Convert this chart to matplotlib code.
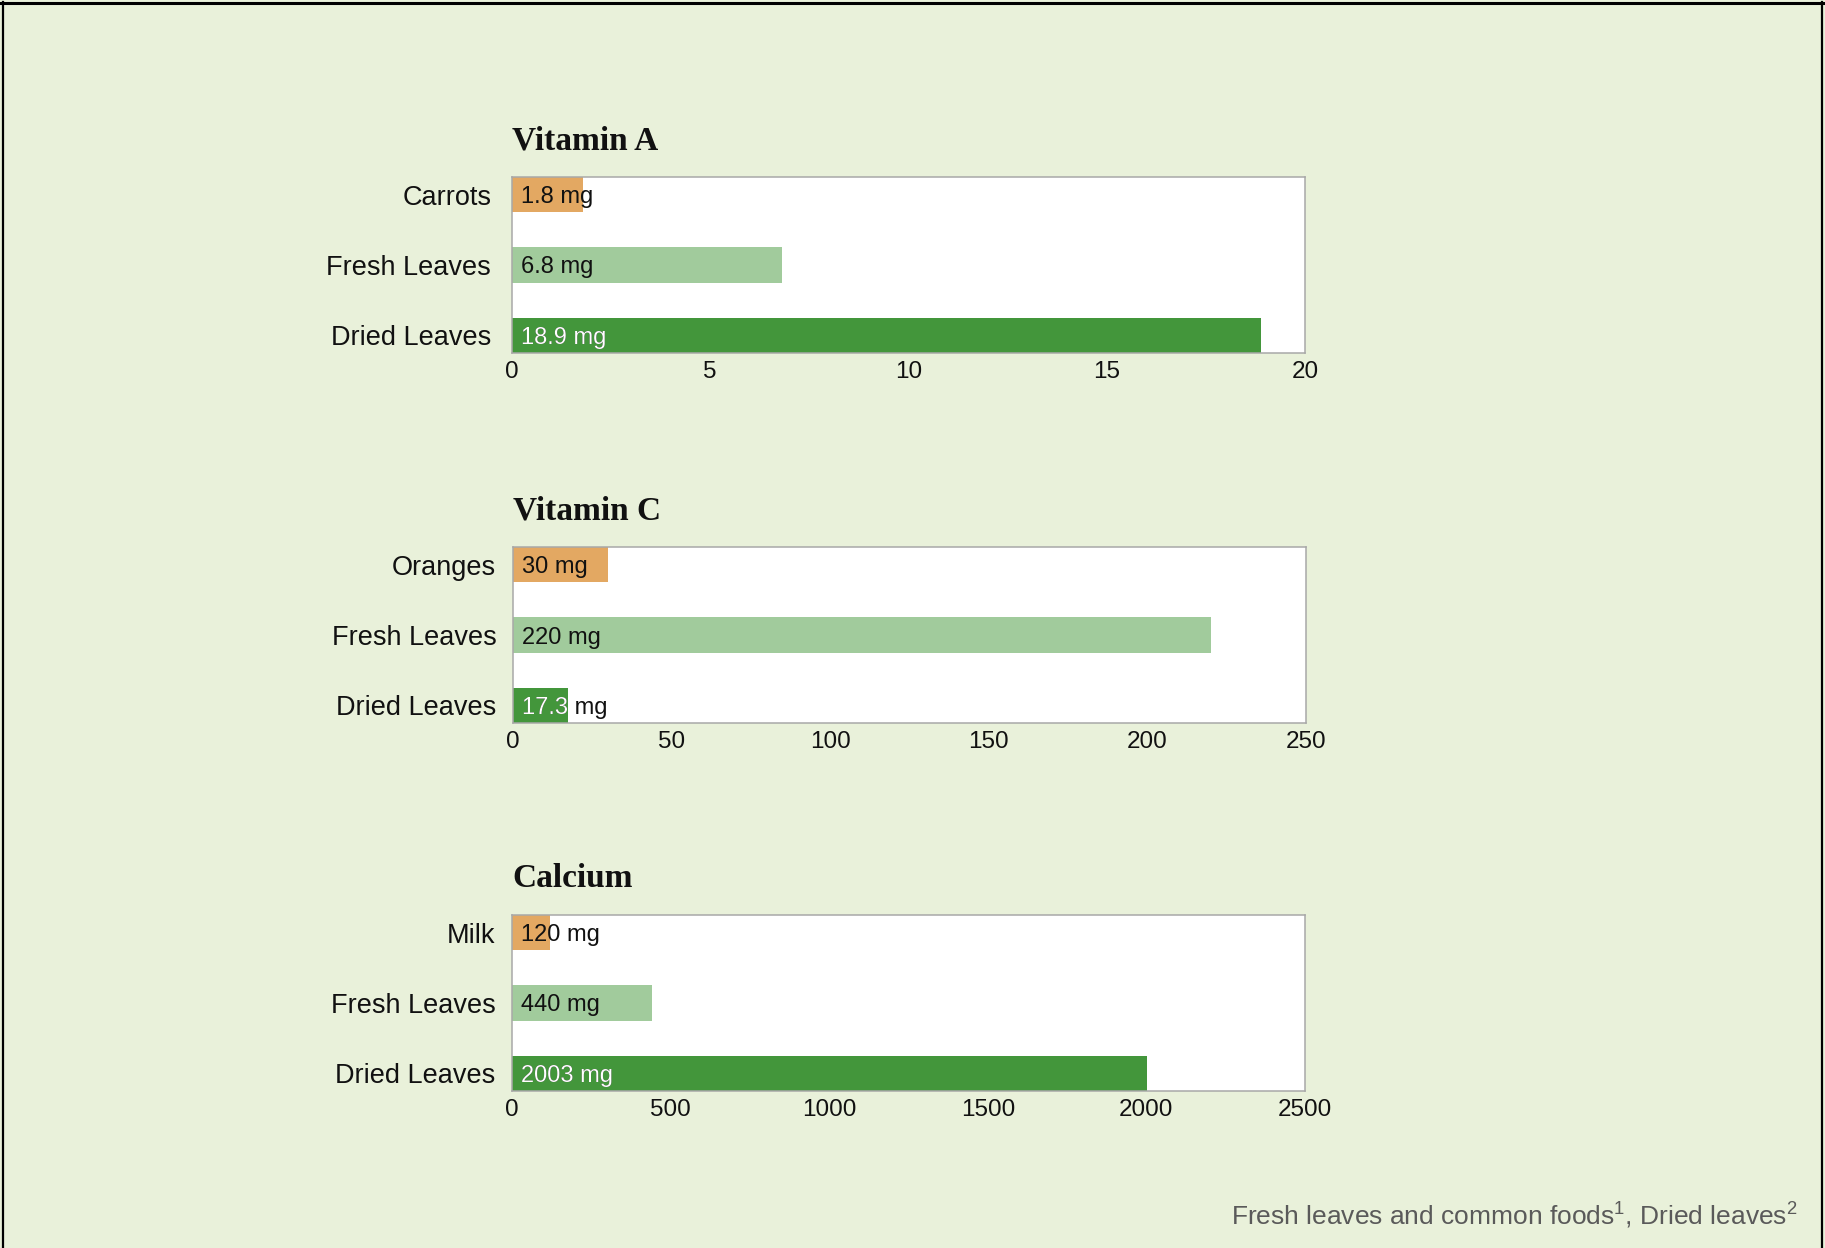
import matplotlib
matplotlib.use("Agg")
import matplotlib.pyplot as plt
from matplotlib.lines import Line2D

# data
titles = ["Vitamin A", "Vitamin C", "Calcium"]
categories = [["Carrots", "Fresh Leaves", "Dried Leaves"],
              ["Oranges", "Fresh Leaves", "Dried Leaves"],
              ["Milk", "Fresh Leaves", "Dried Leaves"]]
values = [[1.8, 6.8, 18.9],
          [30, 220, 17.3],
          [120, 440, 2003]]
bar_labels = [["1.8 mg", "6.8 mg", "18.9 mg"],
              ["30 mg", "220 mg", "17.3 mg"],
              ["120 mg", "440 mg", "2003 mg"]]
xmax = [20, 250, 2500]
xticks = [[0, 5, 10, 15, 20],
          [0, 50, 100, 150, 200, 250],
          [0, 500, 1000, 1500, 2000, 2500]]
footnote = r"Fresh leaves and common foods$^{\mathregular{1}}$, Dried leaves$^{\mathregular{2}}$"

bg = "#e9f1da"
colors = ["#e3a862", "#a1cb9c", "#43963b"]
sans = ["Liberation Sans", "DejaVu Sans"]

W, H = 1825, 1248
fig = plt.figure(figsize=(W / 100, H / 100), dpi=100, facecolor=bg)

# axes boxes in pixels: left, top, right, bottom
boxes = [(512, 177, 1305, 353), (513, 547, 1306, 723), (512, 915, 1305, 1091)]
label_pads = [15, 12, 12]

for i in range(3):
    l, t, r, b = boxes[i]
    ax = fig.add_axes([l / W, 1 - b / H, (r - l) / W, (b - t) / H])
    ax.set_facecolor("white")
    ypos = [0, 1, 2]
    bars = ax.barh(ypos, values[i], height=0.5, color=colors, zorder=2)
    ax.set_ylim(2.25, -0.25)
    ax.set_xlim(0, xmax[i])
    ax.set_xticks(xticks[i])
    ax.set_xticklabels([str(v) for v in xticks[i]], family=sans, fontsize=17.5, color="#111111")
    ax.set_yticks(ypos)
    ax.set_yticklabels(categories[i], family=sans, fontsize=19.5, color="#111111")
    ax.tick_params(axis="both", length=0)
    ax.tick_params(axis="x", pad=6)
    ax.tick_params(axis="y", pad=label_pads[i])
    for s in ax.spines.values():
        s.set_color("#a8a8a8")
        s.set_linewidth(1.1)
    ax.set_title(titles[i], loc="left", pad=20, fontsize=24, fontweight="bold",
                 family=["Liberation Serif", "DejaVu Serif"], color="#111111")

    for j, bar in enumerate(bars):
        ax.annotate(bar_labels[i][j], (0, ypos[j]), xytext=(6.5, 0), textcoords="offset points",
                    va="center_baseline", ha="left", fontsize=17, family=sans, color="#111111", zorder=3)
        if j == 2:
            # white part of the label where it sits on the dark bar
            txt = ax.annotate(bar_labels[i][j], (0, ypos[j]), xytext=(6.5, 0), textcoords="offset points",
                              va="center_baseline", ha="left", fontsize=17, family=sans, color="white", zorder=4)
            txt.set_clip_path(bar)

fig.text(1798 / W, 1 - 1224 / H, footnote, ha="right", va="baseline",
         fontsize=19, family=sans, color="#5a5a5a")

# frame around the figure (top, left, right)
fig.add_artist(Line2D([0.0015, 0.0015], [0, 0.998], transform=fig.transFigure, color="black", lw=1.6))
fig.add_artist(Line2D([0.9985, 0.9985], [0, 0.998], transform=fig.transFigure, color="black", lw=1.6))
fig.add_artist(Line2D([0, 1], [0.9975, 0.9975], transform=fig.transFigure, color="black", lw=2.2))

fig.savefig("out.png", dpi=100, facecolor=bg)
